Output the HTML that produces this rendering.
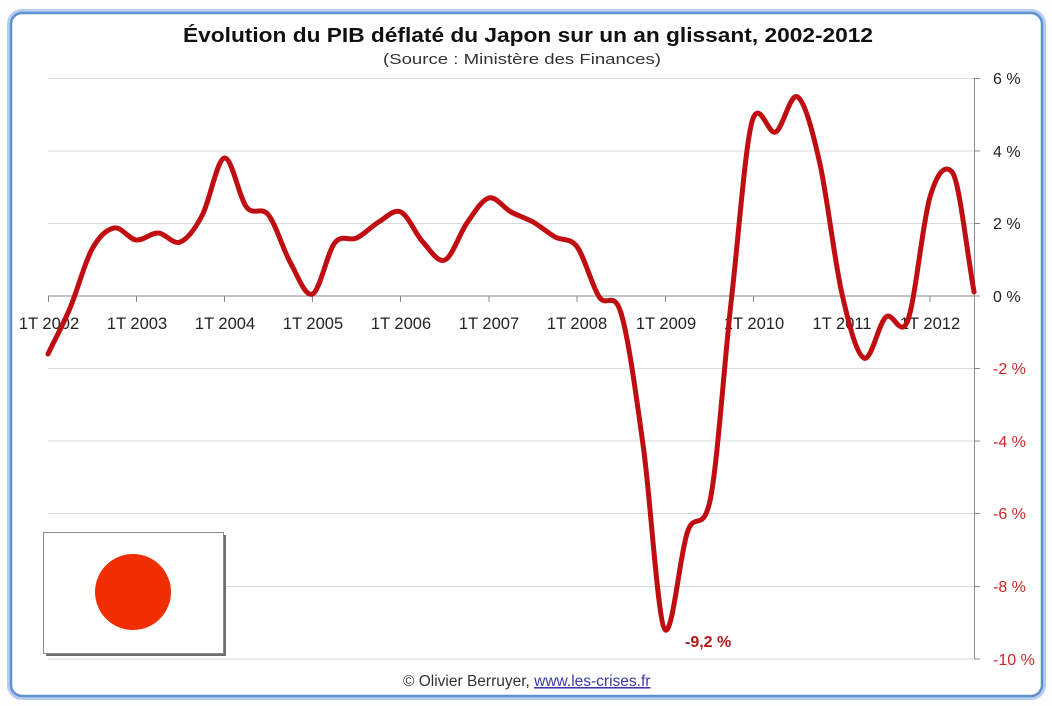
<!DOCTYPE html>
<html>
<head>
<meta charset="utf-8">
<style>
html,body{margin:0;padding:0;background:#fff;}
svg{display:block;}
text{font-family:"Liberation Sans",sans-serif;}
</style>
</head>
<body>
<svg width="1052" height="706" viewBox="0 0 1052 706" xmlns="http://www.w3.org/2000/svg">
  <rect x="0" y="0" width="1052" height="706" fill="#fdfdfd"/>
  <rect x="9" y="11" width="1035" height="687" rx="13" ry="13" fill="#ffffff" stroke="#b4cdee" stroke-width="4"/>
  <rect x="11" y="13" width="1031" height="683" rx="11" ry="11" fill="none" stroke="#5f90d0" stroke-width="2.5"/>

  <text x="183" y="42" font-size="20.5" font-weight="bold" fill="#111" textLength="690" lengthAdjust="spacingAndGlyphs">Évolution du PIB déflaté du Japon sur un an glissant, 2002-2012</text>
  <text x="383" y="64" font-size="15" fill="#333" textLength="278" lengthAdjust="spacingAndGlyphs">(Source : Ministère des Finances)</text>

  <g stroke="#dadada" stroke-width="1">
    <line x1="48" y1="78.5" x2="974" y2="78.5"/>
    <line x1="48" y1="151" x2="974" y2="151"/>
    <line x1="48" y1="223.5" x2="974" y2="223.5"/>
    <line x1="48" y1="368.5" x2="974" y2="368.5"/>
    <line x1="48" y1="441" x2="974" y2="441"/>
    <line x1="48" y1="513.5" x2="974" y2="513.5"/>
    <line x1="48" y1="586.5" x2="974" y2="586.5"/>
    <line x1="48" y1="659" x2="974" y2="659"/>
  </g>
  <g stroke="#8a8a8a" stroke-width="1">
    <line x1="974.5" y1="78" x2="974.5" y2="659"/>
    <line x1="974" y1="78.5" x2="980" y2="78.5"/>
    <line x1="974" y1="151" x2="980" y2="151"/>
    <line x1="974" y1="223.5" x2="980" y2="223.5"/>
    <line x1="974" y1="296" x2="980" y2="296"/>
    <line x1="974" y1="368.5" x2="980" y2="368.5"/>
    <line x1="974" y1="441" x2="980" y2="441"/>
    <line x1="974" y1="513.5" x2="980" y2="513.5"/>
    <line x1="974" y1="586.5" x2="980" y2="586.5"/>
    <line x1="974" y1="659" x2="980" y2="659"/>
    <line x1="48" y1="296" x2="974" y2="296"/>
    <line x1="48.5" y1="296" x2="48.5" y2="302"/>
    <line x1="136.5" y1="296" x2="136.5" y2="302"/>
    <line x1="224.5" y1="296" x2="224.5" y2="302"/>
    <line x1="312.5" y1="296" x2="312.5" y2="302"/>
    <line x1="400.5" y1="296" x2="400.5" y2="302"/>
    <line x1="489" y1="296" x2="489" y2="302"/>
    <line x1="577" y1="296" x2="577" y2="302"/>
    <line x1="665.5" y1="296" x2="665.5" y2="302"/>
    <line x1="753.5" y1="296" x2="753.5" y2="302"/>
    <line x1="841.5" y1="296" x2="841.5" y2="302"/>
    <line x1="930" y1="296" x2="930" y2="302"/>
  </g>

  <g font-size="16">
    <text x="993" y="84" fill="#222">6 %</text>
    <text x="993" y="157" fill="#222">4 %</text>
    <text x="993" y="229" fill="#222">2 %</text>
    <text x="993" y="302" fill="#222">0 %</text>
    <text x="993" y="374" fill="#c8282a">-2 %</text>
    <text x="993" y="447" fill="#c8282a">-4 %</text>
    <text x="993" y="519" fill="#c8282a">-6 %</text>
    <text x="993" y="592" fill="#c8282a">-8 %</text>
    <text x="993" y="665" fill="#c8282a">-10 %</text>
  </g>

  <g font-size="16.5" fill="#222" text-anchor="middle">
    <text x="49" y="329">1T 2002</text>
    <text x="137" y="329">1T 2003</text>
    <text x="225" y="329">1T 2004</text>
    <text x="313" y="329">1T 2005</text>
    <text x="401" y="329">1T 2006</text>
    <text x="489" y="329">1T 2007</text>
    <text x="577" y="329">1T 2008</text>
    <text x="666" y="329">1T 2009</text>
    <text x="754" y="329">1T 2010</text>
    <text x="842" y="329">1T 2011</text>
    <text x="930" y="329">1T 2012</text>
  </g>

  <rect x="46" y="535" width="180" height="121" fill="#555" opacity="0.85"/>
  <rect x="43.5" y="532.5" width="180" height="121" fill="#fff" stroke="#8c8c8c" stroke-width="1"/>
  <circle cx="133" cy="592" r="38" fill="#f02e00"/>

  <path fill="none" stroke="#c00d12" stroke-width="5" stroke-linejoin="round" stroke-linecap="round"
    d="M48,354
    C55.35,338.67 62.7,325.5 70.05,308
    C77.4,290.5 84.75,262.33 92.1,249
    C99.45,235.67 106.8,229.5 114.15,228
    C121.5,226.5 128.85,239.17 136.2,240
    C143.55,240.83 150.9,232.67 158.25,233
    C165.6,233.33 172.95,245 180.3,242
    C187.65,239 195,229 202.35,215
    C209.7,201 217.05,159.33 224.4,158
    C231.75,156.67 239.1,197.5 246.45,207
    C253.8,216.5 261.15,205.67 268.5,215
    C275.85,224.33 283.2,249.83 290.55,263
    C297.9,276.17 305.25,297.33 312.6,294
    C319.95,290.67 327.3,252.33 334.65,243
    C342,233.67 349.35,241.5 356.7,238
    C364.05,234.5 371.4,226.33 378.75,222
    C386.1,217.67 393.45,208.67 400.8,212
    C408.15,215.33 415.5,234 422.85,242
    C430.2,250 437.55,263.17 444.9,260
    C452.25,256.83 459.6,233.33 466.95,223
    C474.3,212.67 481.65,199.83 489,198
    C496.35,196.17 503.7,208 511.05,212
    C518.4,216 525.75,217.83 533.1,222
    C540.45,226.17 547.8,232.83 555.15,237
    C562.5,241.17 569.85,237 577.2,247
    C584.55,257 591.9,285.83 599.25,297
    C606.6,308.17 613.95,289 621.3,314
    C628.65,339 636,394.33 643.35,447
    C650.7,499.67 658.05,626 665.4,630
    C672.75,634 680.1,553.17 687.45,532
    C694.8,510.83 702.15,533 709.5,503
    C716.85,473 724.2,362.33 731.55,298
    C738.9,233.67 746.25,132 753.6,117
    C760.95,102 768.3,135.33 775.65,132
    C783,128.67 790.35,91.83 797.7,97
    C805.05,102.17 812.4,130.33 819.75,163
    C827.1,195.67 834.45,260.5 841.8,293
    C849.15,325.5 856.5,354 863.85,358
    C871.2,362 878.55,323.33 885.9,317
    C893.25,310.67 900.6,340 907.95,320
    C915.3,300 922.65,221.67 930,197
    C937.35,172.33 944.7,164 952.05,172
    C959.4,180 966.75,252 974.1,292"/>

  <text x="685" y="647" font-size="16" font-weight="bold" fill="#b3161b">-9,2 %</text>

  <text x="403" y="686" font-size="15.5" fill="#333">© Olivier Berruyer, <tspan fill="#3a3aa8" text-decoration="underline">www.les-crises.fr</tspan></text>
</svg>
</body>
</html>
